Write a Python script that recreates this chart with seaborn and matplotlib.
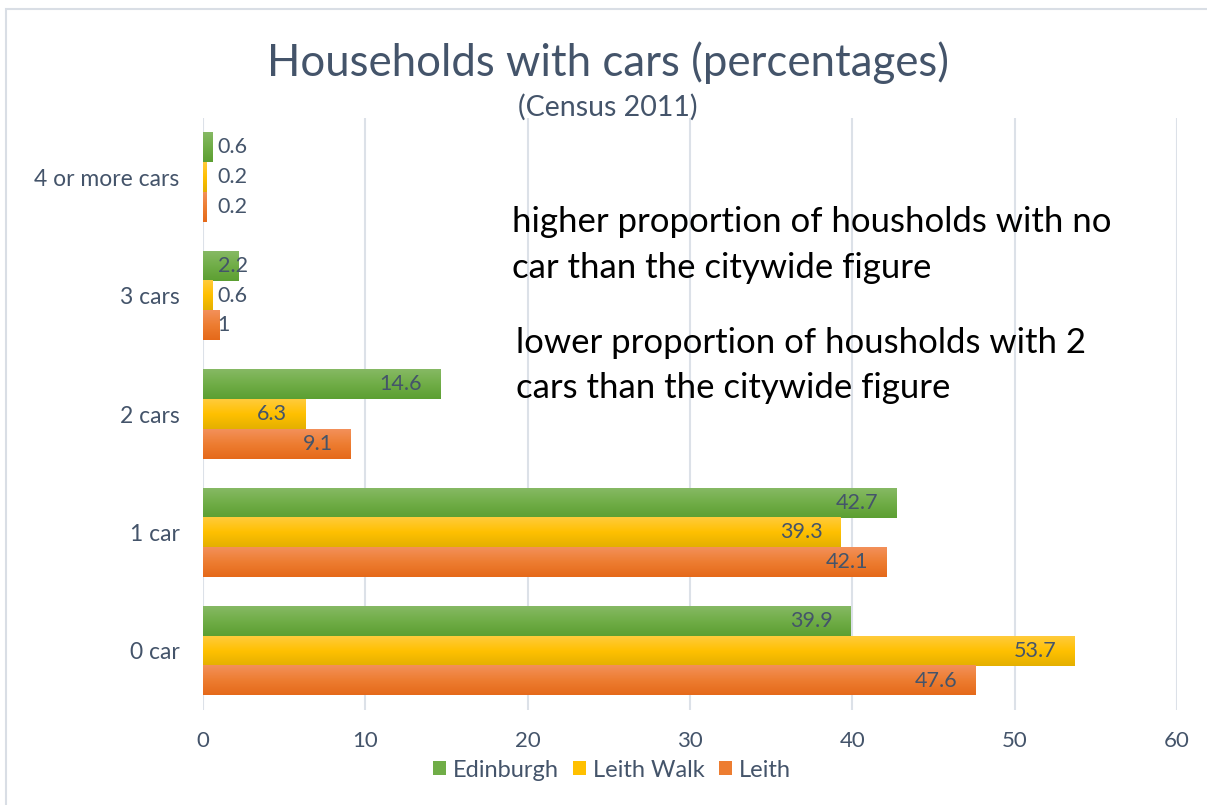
import numpy as np
import pandas as pd
import matplotlib.pyplot as plt
from matplotlib.colors import LinearSegmentedColormap
from matplotlib.patches import Rectangle, Patch
import seaborn as sns

# données
categories = ["4 or more cars", "3 cars", "2 cars", "1 car", "0 car"]
areas = ["Edinburgh", "Leith Walk", "Leith"]
edinburgh = [0.6, 2.2, 14.6, 42.7, 39.9]
leith_walk = [0.2, 0.6, 6.3, 39.3, 53.7]
leith = [0.2, 1, 9.1, 42.1, 47.6]

df = pd.DataFrame({
    "cat": categories * 3,
    "area": [areas[0]] * 5 + [areas[1]] * 5 + [areas[2]] * 5,
    "pct": edinburgh + leith_walk + leith,
})

base = {"Edinburgh": "#70AD47", "Leith Walk": "#FFC000", "Leith": "#ED7D31"}
grads = {
    "Edinburgh": ["#86B964", "#70AD47", "#5C9F32"],
    "Leith Walk": ["#FFCB3C", "#FFC000", "#E4B000"],
    "Leith": ["#F3905A", "#ED7D31", "#E5691A"],
}
txt = "#44546A"
grid_col = "#DCE1E8"

sns.set_theme(style="white")
plt.rcParams["font.family"] = ["Lato", "DejaVu Sans"]

fig = plt.figure(figsize=(12.07, 8.05), dpi=100)
ax = fig.add_axes([203 / 1207, 1 - 710 / 805, 974 / 1207, 592 / 805])

sns.barplot(data=df, y="cat", x="pct", hue="area", order=categories,
            hue_order=areas, palette=base, orient="h", width=0.755,
            ax=ax, legend=False, saturation=1)

# dégradé vertical sur chaque barre
for area, cont in zip(areas, ax.containers):
    cmap = LinearSegmentedColormap.from_list(area, grads[area])
    grad = np.linspace(0, 1, 64).reshape(-1, 1)
    for bar in cont:
        x0, y0 = bar.get_x(), bar.get_y()
        w, h = bar.get_width(), bar.get_height()
        bar.set_facecolor("none")
        bar.set_edgecolor("none")
        ax.imshow(grad, cmap=cmap, aspect="auto", zorder=2,
                  extent=(x0, x0 + w, y0 + h, y0), origin="upper")
        lab = f"{w:g}"
        yc = y0 + h / 2
        if w < 4:
            ax.text(0.9, yc, lab, ha="left", va="center", color=txt,
                    fontsize=15.5, zorder=3)
        else:
            ax.text(w - 1.1, yc, lab, ha="right", va="center", color=txt,
                    fontsize=15.5, zorder=3)

ax.set_xlim(0, 60)
ax.set_ylim(4.5, -0.5)
ax.set_xticks(range(0, 61, 10))
ax.grid(axis="x", color=grid_col, linewidth=1.5)
ax.grid(axis="y", visible=False)
ax.set_axisbelow(True)
for s in ax.spines.values():
    s.set_visible(False)
ax.tick_params(axis="both", length=0, colors=txt)
ax.tick_params(axis="y", pad=17, labelsize=16.5)
ax.tick_params(axis="x", pad=15, labelsize=16)
ax.set_xlabel("")
ax.set_ylabel("")

# titres
fig.text(608 / 1207, 1 - 63 / 805, "Households with cars (percentages)",
         ha="center", va="center", fontsize=31.5, color=txt)
fig.text(608 / 1207, 1 - 107 / 805, "(Census 2011)",
         ha="center", va="center", fontsize=20.5, color=txt)

# annotations
fig.text(512 / 1207, 1 - 222 / 805, "higher proportion of housholds with no",
         ha="left", va="center", fontsize=25, color="black")
fig.text(512 / 1207, 1 - 268 / 805, "car than the citywide figure",
         ha="left", va="center", fontsize=25, color="black")
fig.text(516 / 1207, 1 - 343 / 805, "lower proportion of housholds with 2",
         ha="left", va="center", fontsize=25, color="black")
fig.text(516 / 1207, 1 - 388 / 805, "cars than the citywide figure",
         ha="left", va="center", fontsize=25, color="black")

# légende
handles = [Patch(facecolor=base[a], edgecolor="none", label=a) for a in areas]
fig.legend(handles=handles, loc="center", bbox_to_anchor=(612 / 1207, 1 - 770 / 805),
           ncol=3, frameon=False, fontsize=17, labelcolor=txt,
           handlelength=0.55, handleheight=0.55, handletextpad=0.3, columnspacing=0.6)

# cadre extérieur
fig.patches.append(Rectangle((6 / 1207, -0.1), 1.2, 1.1 - 9 / 805, transform=fig.transFigure,
                             fill=False, edgecolor="#D9DEE5", linewidth=1.5))

plt.savefig("out.png", dpi=100)
